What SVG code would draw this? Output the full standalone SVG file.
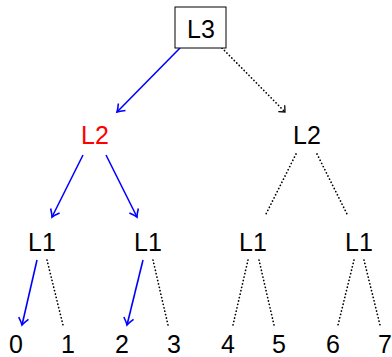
<svg xmlns="http://www.w3.org/2000/svg" width="392" height="357" viewBox="0 0 392 357">
<style>
text{font-family:"Liberation Sans",Arial,sans-serif;font-size:25px;text-anchor:middle;fill:#000}
.red{fill:#ff0000}
.blue{stroke:#0000ff;stroke-width:1.6;fill:none;marker-end:url(#ab)}
.dot{stroke:#000;stroke-width:1.7;fill:none;stroke-dasharray:0.1 3.4;stroke-linecap:round}
</style>
<defs>
<marker id="ab" markerUnits="userSpaceOnUse" markerWidth="14" markerHeight="14" viewBox="-10 -7 14 14" refX="0" refY="0" orient="auto">
<path d="M -7 -5 Q -2.5 -1.2 0 0 Q -2.5 1.2 -7 5" fill="none" stroke="#0000ff" stroke-width="1.6"/>
</marker>
<marker id="ak" markerUnits="userSpaceOnUse" markerWidth="14" markerHeight="14" viewBox="-10 -7 14 14" refX="0" refY="0" orient="auto">
<path d="M -5 -4.5 L 0 0 L -5 4.5" fill="none" stroke="#000" stroke-width="1.3"/>
</marker>
</defs>
<g id="connectors">
<path class="blue" d="M180 48 L117 112"/>
<path class="dot" d="M222 48 L285 112" marker-end="url(#ak)"/>
<path class="blue" d="M83 155 L52 217"/>
<path class="blue" d="M106 155 L137 217"/>
<path class="dot" d="M296 154 L265 216"/>
<path class="dot" d="M317 154 L348 216"/>
<path class="blue" d="M37 260 L22 325"/>
<path class="dot" d="M47 260 L63 325"/>
<path class="blue" d="M143 260 L127 325"/>
<path class="dot" d="M153 260 L168 325"/>
<path class="dot" d="M248 260 L233 325"/>
<path class="dot" d="M259 260 L274 325"/>
<path class="dot" d="M354 260 L338 325"/>
<path class="dot" d="M364 260 L380 325"/>
</g>
<g id="n-L3"><rect x="175" y="7" width="51" height="41" fill="#fff" stroke="#000" stroke-width="1"/><text x="201" y="38">L3</text></g>
<g id="n-L2a"><text class="red" x="95" y="144">L2</text></g>
<g id="n-L2b"><text x="307" y="144">L2</text></g>
<g id="n-L1a"><text x="42" y="251">L1</text></g>
<g id="n-L1b"><text x="148" y="251">L1</text></g>
<g id="n-L1c"><text x="253" y="251">L1</text></g>
<g id="n-L1d"><text x="359" y="251">L1</text></g>
<g id="n-0"><text x="16" y="353">0</text></g>
<g id="n-1"><text x="68" y="353">1</text></g>
<g id="n-2"><text x="122" y="353">2</text></g>
<g id="n-3"><text x="174" y="353">3</text></g>
<g id="n-4"><text x="228" y="353">4</text></g>
<g id="n-5"><text x="279" y="353">5</text></g>
<g id="n-6"><text x="333" y="353">6</text></g>
<g id="n-7"><text x="385" y="353">7</text></g>
</svg>
